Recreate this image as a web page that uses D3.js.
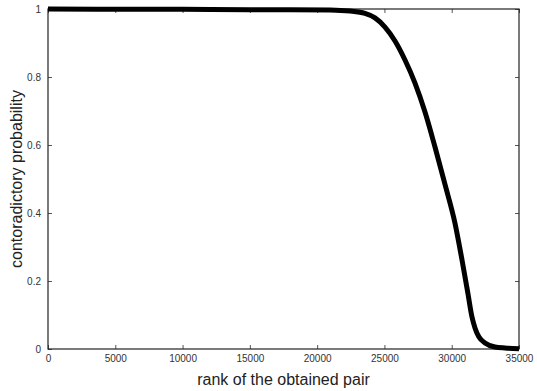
<!DOCTYPE html>
<html><head><meta charset="utf-8">
<script src="https://cdn.jsdelivr.net/npm/d3@7"></script>
<style>body{margin:0;background:#fff}svg{display:block}</style>
</head><body>
<script>
const rank = [0, 5000, 10000, 15000, 18000, 20955, 22442, 23556, 24299, 25042, 25786, 26529, 27272, 28015, 28758, 29501, 30244, 30764, 31210, 31507, 31730, 32027, 32473, 33217, 33960, 35000];
const prob = [1.0, 0.999, 0.999, 0.998, 0.998, 0.997, 0.994, 0.987, 0.974, 0.947, 0.906, 0.85, 0.782, 0.697, 0.594, 0.484, 0.37, 0.262, 0.162, 0.094, 0.062, 0.035, 0.018, 0.006, 0.003, 0.001];
const xTicks = [0, 5000, 10000, 15000, 20000, 25000, 30000, 35000];
const yTicks = [0, 0.2, 0.4, 0.6, 0.8, 1];
const xTitle = "rank of the obtained pair";
const yTitle = "contoradictory probability";

const W = 537, H = 391;
const m = {l: 48, r: 18, t: 9, b: 42};
const svg = d3.select("body").append("svg").attr("width", W).attr("height", H);
const x = d3.scaleLinear().domain([0, 35000]).range([m.l, W - m.r]);
const y = d3.scaleLinear().domain([0, 1]).range([H - m.b, m.t]);

const tickCol = "#555", txtCol = "#333";
const font = "Liberation Sans, Arial, sans-serif";

function styleAxis(g, hideText) {
  g.select(".domain").remove();
  g.selectAll(".tick line").attr("stroke", tickCol);
  g.selectAll(".tick text").attr("fill", txtCol).attr("font-size", 10).attr("font-family", font);
  if (hideText) g.selectAll(".tick text").remove();
}
const fmtX = d3.format("d");
const fmtY = d => d === 0 ? "0" : d === 1 ? "1" : d3.format(".1f")(d);

svg.append("g").attr("transform", `translate(0,${H - m.b})`)
  .call(d3.axisTop(x).tickValues(xTicks).tickSize(4).tickFormat(fmtX))
  .call(g => { styleAxis(g, false); g.selectAll(".tick text").attr("y", 13).attr("dy", "0"); });
svg.append("g").attr("transform", `translate(0,${m.t})`)
  .call(d3.axisBottom(x).tickValues(xTicks).tickSize(4))
  .call(g => styleAxis(g, true));
svg.append("g").attr("transform", `translate(${m.l},0)`)
  .call(d3.axisRight(y).tickValues(yTicks).tickSize(4).tickFormat(fmtY))
  .call(g => { styleAxis(g, false); g.selectAll(".tick text").attr("x", -7).attr("text-anchor", "end"); });
svg.append("g").attr("transform", `translate(${W - m.r},0)`)
  .call(d3.axisLeft(y).tickValues(yTicks).tickSize(4))
  .call(g => styleAxis(g, true));

svg.append("rect").attr("x", m.l).attr("y", m.t)
  .attr("width", W - m.r - m.l).attr("height", H - m.b - m.t)
  .attr("fill", "none").attr("stroke", "#222").attr("stroke-width", 1.2);

const line = d3.line().x((d, i) => x(rank[i])).y((d, i) => y(prob[i])).curve(d3.curveMonotoneX);
svg.append("path").datum(prob).attr("d", line)
  .attr("fill", "none").attr("stroke", "#000").attr("stroke-width", 5)
  .attr("stroke-linejoin", "round");

svg.append("text").attr("x", (m.l + W - m.r) / 2).attr("y", 385)
  .attr("text-anchor", "middle").attr("font-size", 16).attr("font-family", font)
  .attr("fill", "#222").text(xTitle);
svg.append("text").attr("transform", `translate(22,${(m.t + H - m.b) / 2}) rotate(-90)`)
  .attr("text-anchor", "middle").attr("font-size", 16).attr("font-family", font)
  .attr("fill", "#222").text(yTitle);
</script>
</body></html>
